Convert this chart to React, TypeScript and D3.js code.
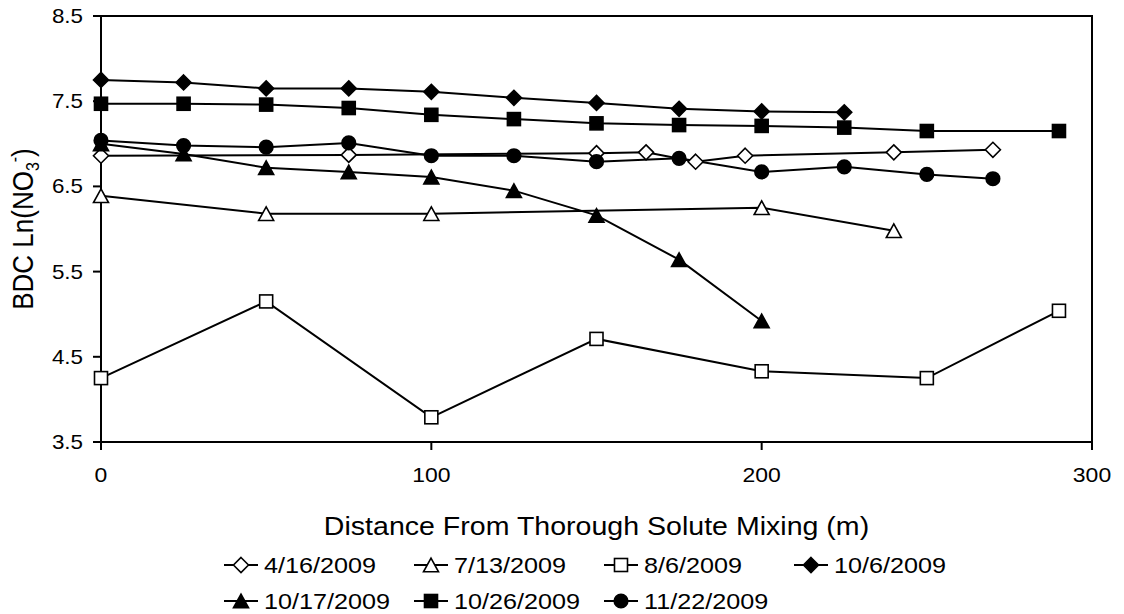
import React from "react";
import * as d3 from "d3";

// Distance from thorough solute mixing (m) and BDC Ln(NO3-) for each sampling date
const x0416 = [0, 75, 150, 165, 180, 195, 240, 270];
const y0416 = [6.86, 6.87, 6.89, 6.9, 6.79, 6.86, 6.9, 6.93];
const x0713 = [0, 50, 100, 200, 240];
const y0713 = [6.39, 6.18, 6.18, 6.25, 5.98];
const x0806 = [0, 50, 100, 150, 200, 250, 290];
const y0806 = [4.25, 5.15, 3.79, 4.71, 4.33, 4.25, 5.04];
const x1006 = [0, 25, 50, 75, 100, 125, 150, 175, 200, 225];
const y1006 = [7.75, 7.72, 7.65, 7.65, 7.61, 7.54, 7.48, 7.41, 7.38, 7.37];
const x1017 = [0, 25, 50, 75, 100, 125, 150, 175, 200];
const y1017 = [7.0, 6.88, 6.72, 6.67, 6.61, 6.45, 6.16, 5.64, 4.92];
const x1026 = [0, 25, 50, 75, 100, 125, 150, 175, 200, 225, 250, 290];
const y1026 = [7.47, 7.47, 7.46, 7.42, 7.34, 7.29, 7.24, 7.22, 7.21, 7.19, 7.15, 7.15];
const x1122 = [0, 25, 50, 75, 100, 125, 150, 175, 200, 225, 250, 270];
const y1122 = [7.04, 6.98, 6.96, 7.01, 6.86, 6.86, 6.79, 6.83, 6.67, 6.73, 6.64, 6.59];

const xTicks = [0, 100, 200, 300];
const yTicks = [3.5, 4.5, 5.5, 6.5, 7.5, 8.5];

type Shape = "diamond" | "triangle" | "square" | "circle";
const series: { name: string; xs: number[]; ys: number[]; shape: Shape; filled: boolean }[] = [
  { name: "4/16/2009", xs: x0416, ys: y0416, shape: "diamond", filled: false },
  { name: "7/13/2009", xs: x0713, ys: y0713, shape: "triangle", filled: false },
  { name: "8/6/2009", xs: x0806, ys: y0806, shape: "square", filled: false },
  { name: "10/6/2009", xs: x1006, ys: y1006, shape: "diamond", filled: true },
  { name: "10/17/2009", xs: x1017, ys: y1017, shape: "triangle", filled: true },
  { name: "10/26/2009", xs: x1026, ys: y1026, shape: "square", filled: true },
  { name: "11/22/2009", xs: x1122, ys: y1122, shape: "circle", filled: true },
];

const W = 1124;
const H = 614;
const plot = { left: 101, right: 1092, top: 16, bottom: 442 };
const FONT = "'Liberation Sans', Arial, sans-serif";
const SX = 1.12; // horizontal text stretch

const x = d3.scaleLinear().domain([0, 300]).range([plot.left, plot.right]);
const y = d3.scaleLinear().domain([3.5, 8.5]).range([plot.bottom, plot.top]);

function Marker({ cx, cy, shape, filled }: { cx: number; cy: number; shape: Shape; filled: boolean }) {
  const fill = filled ? "#000" : "#fff";
  const common = { fill, stroke: "#000", strokeWidth: 1.6 };
  if (shape === "circle") return <circle cx={cx} cy={cy} r={6.8} {...common} />;
  if (shape === "square") return <rect x={cx - 6.5} y={cy - 6.5} width={13} height={13} {...common} />;
  if (shape === "diamond") {
    const r = 7.5;
    return <path d={`M${cx},${cy - r}L${cx + r},${cy}L${cx},${cy + r}L${cx - r},${cy}Z`} {...common} />;
  }
  const h = 6.8;
  const w = 7.5;
  return <path d={`M${cx},${cy - h}L${cx + w},${cy + h}L${cx - w},${cy + h}Z`} {...common} />;
}

function SText({ x: tx, y: ty, size, anchor, children }: { x: number; y: number; size: number; anchor: string; children: React.ReactNode }) {
  return (
    <text
      transform={`translate(${tx},${ty}) scale(${SX},1)`}
      fontFamily={FONT}
      fontSize={size}
      textAnchor={anchor}
      fill="#000"
    >
      {children}
    </text>
  );
}

export default function App() {
  const line = d3
    .line<[number, number]>()
    .x((d) => x(d[0]))
    .y((d) => y(d[1]));

  const legendRows = [series.slice(0, 4), series.slice(4)];
  const legendX0 = 224;
  const legendStep = 190;
  const legendY = [565, 601];

  return (
    <svg
      width={W}
      height={H}
      viewBox={`0 0 ${W} ${H}`}
      style={{ position: "absolute", left: 0, top: 0, background: "#fff" }}
    >
      <rect width={W} height={H} fill="#fff" />
      {/* plot frame */}
      <rect
        x={plot.left}
        y={plot.top}
        width={plot.right - plot.left}
        height={plot.bottom - plot.top}
        fill="none"
        stroke="#000"
        strokeWidth={2}
      />
      {/* y ticks and labels */}
      {yTicks.map((t) => (
        <g key={`y${t}`}>
          <line x1={plot.left - 8} x2={plot.left} y1={y(t)} y2={y(t)} stroke="#000" strokeWidth={2} />
          <SText x={plot.left - 18} y={y(t) + 7} size={20} anchor="end">
            {t.toFixed(1)}
          </SText>
        </g>
      ))}
      {/* x ticks and labels */}
      {xTicks.map((t) => (
        <g key={`x${t}`}>
          <line x1={x(t)} x2={x(t)} y1={plot.bottom} y2={plot.bottom + 8} stroke="#000" strokeWidth={2} />
          <SText x={x(t)} y={plot.bottom + 40} size={20.5} anchor="middle">
            {t}
          </SText>
        </g>
      ))}
      {/* axis titles */}
      <SText x={(plot.left + plot.right) / 2} y={535} size={25.5} anchor="middle">
        Distance From Thorough Solute Mixing (m)
      </SText>
      <text
        transform={`translate(33,${(plot.top + plot.bottom) / 2}) rotate(-90) scale(1,${SX})`}
        fontFamily={FONT}
        fontSize={26}
        textAnchor="middle"
        fill="#000"
      >
        BDC Ln(NO
        <tspan fontSize={16} dy={5}>3</tspan>
        <tspan fontSize={16} dy={-16}>-</tspan>
        <tspan dy={11}>)</tspan>
      </text>
      {/* series lines */}
      {series.map((s) => (
        <path
          key={`l${s.name}`}
          d={line(s.xs.map((v, i) => [v, s.ys[i]] as [number, number])) || ""}
          fill="none"
          stroke="#000"
          strokeWidth={2}
        />
      ))}
      {/* series markers */}
      {series.map((s) => (
        <g key={`m${s.name}`}>
          {s.xs.map((v, i) => (
            <Marker key={i} cx={x(v)} cy={y(s.ys[i])} shape={s.shape} filled={s.filled} />
          ))}
        </g>
      ))}
      {/* legend */}
      {legendRows.map((row, r) =>
        row.map((s, c) => {
          const lx = legendX0 + c * legendStep;
          const ly = legendY[r];
          return (
            <g key={`lg${s.name}`}>
              <line x1={lx} x2={lx + 34} y1={ly} y2={ly} stroke="#000" strokeWidth={2} />
              <Marker cx={lx + 17} cy={ly} shape={s.shape} filled={s.filled} />
              <SText x={lx + 40} y={ly + 8} size={22.5} anchor="start">
                {s.name}
              </SText>
            </g>
          );
        })
      )}
    </svg>
  );
}
